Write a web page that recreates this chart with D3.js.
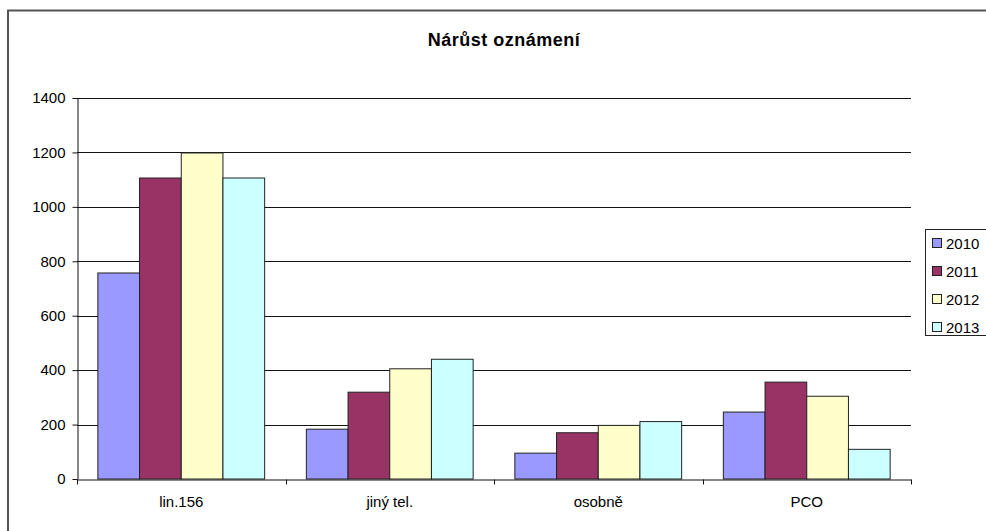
<!DOCTYPE html>
<html>
<head>
<meta charset="utf-8">
<script src="https://cdn.jsdelivr.net/npm/d3@7.9.0/dist/d3.min.js"></script>
<style>
  body { margin: 0; background: #fff; }
  svg { display: block; font-family: "Liberation Sans", Arial, sans-serif; }
</style>
</head>
<body>
<div id="chart"></div>
<script>
const categories = ['lin.156', 'jiný tel.', 'osobně', 'PCO'];
const years = ['2010', '2011', '2012', '2013'];
const values2010 = [757, 183, 95, 246];
const values2011 = [1106, 319, 170, 356];
const values2012 = [1198, 405, 197, 304];
const values2013 = [1106, 440, 211, 109];
const yTicks = [0, 200, 400, 600, 800, 1000, 1200, 1400];
const colors = ['#9999ff', '#993366', '#ffffcc', '#ccffff'];

const series = [values2010, values2011, values2012, values2013];
const rows = categories.map((c, i) => ({
    category: c,
    values: years.map((y, j) => ({ year: y, value: series[j][i] })),
}));

const width = 986;
const height = 531;
const plot = { left: 77, right: 911, top: 98, bottom: 479 };

const svg = d3.select('#chart')
    .append('svg')
    .attr('width', width)
    .attr('height', height);

// outer frame
svg.append('path')
    .attr('d', `M8,${height} V10.5 H${width}`)
    .attr('fill', 'none')
    .attr('stroke', '#555')
    .attr('stroke-width', 2);

svg.append('text')
    .attr('x', 504)
    .attr('y', 46)
    .attr('text-anchor', 'middle')
    .attr('font-size', 18)
    .attr('font-weight', 'bold')
    .attr('letter-spacing', 0.5)
    .text('Nárůst oznámení');

const x0 = d3.scaleBand()
    .domain(categories)
    .range([plot.left, plot.right]);

// Excel gap width 50%: half a bar on each side of the group
const x1 = d3.scaleBand()
    .domain(years)
    .range([0, x0.bandwidth()])
    .paddingInner(0)
    .paddingOuter(0.5);

const y = d3.scaleLinear()
    .domain([0, 1400])
    .range([plot.bottom, plot.top]);

// gridlines
svg.append('g')
    .selectAll('line')
    .data(yTicks.filter(d => d > 0))
    .join('line')
    .attr('x1', plot.left)
    .attr('x2', plot.right)
    .attr('y1', d => Math.round(y(d)) + 0.5)
    .attr('y2', d => Math.round(y(d)) + 0.5)
    .attr('stroke', '#111')
    .attr('stroke-width', 1);

// bars
svg.append('g')
    .selectAll('g')
    .data(rows)
    .join('g')
    .attr('transform', d => `translate(${x0(d.category)},0)`)
    .selectAll('rect')
    .data(d => d.values)
    .join('rect')
    .attr('x', d => x1(d.year))
    .attr('y', d => y(d.value))
    .attr('width', x1.bandwidth())
    .attr('height', d => plot.bottom - y(d.value))
    .attr('fill', (d, i) => colors[i])
    .attr('stroke', '#222')
    .attr('stroke-width', 1);

// y axis
const yAxis = svg.append('g')
    .attr('transform', `translate(${plot.left + 0.5},0)`)
    .call(d3.axisLeft(y).tickValues(yTicks).tickFormat(d3.format('d'))
        .tickSize(5).tickSizeOuter(0).tickPadding(7));
yAxis.select('.domain').attr('stroke', '#111');
yAxis.selectAll('.tick line').attr('stroke', '#111');
yAxis.selectAll('.tick text')
    .attr('font-size', 15)
    .attr('font-family', '"Liberation Sans", Arial, sans-serif')
    .attr('fill', '#000');

// x axis
const xAxis = svg.append('g')
    .attr('transform', `translate(0,${plot.bottom + 0.5})`)
    .call(d3.axisBottom(x0).tickSize(0).tickPadding(17));
xAxis.select('.domain').attr('stroke', '#111');
xAxis.selectAll('.tick text')
    .attr('font-size', 15)
    .attr('font-family', '"Liberation Sans", Arial, sans-serif')
    .attr('fill', '#000');
xAxis.selectAll('.sep')
    .data(categories.concat(['end']))
    .join('line')
    .attr('class', 'sep')
    .attr('x1', (d, i) => Math.round(plot.left + i * x0.step()) + 0.5)
    .attr('x2', (d, i) => Math.round(plot.left + i * x0.step()) + 0.5)
    .attr('y1', 0)
    .attr('y2', 5)
    .attr('stroke', '#111');

// legend
const legend = svg.append('g').attr('transform', 'translate(925,229)');
legend.append('rect')
    .attr('x', 0.5)
    .attr('y', 0.5)
    .attr('width', 80)
    .attr('height', 106)
    .attr('fill', '#fff')
    .attr('stroke', '#222');
const items = legend.selectAll('g.item')
    .data(years)
    .join('g')
    .attr('class', 'item')
    .attr('transform', (d, i) => `translate(0,${15 + i * 28})`);
items.append('rect')
    .attr('x', 7.5)
    .attr('y', -5.5)
    .attr('width', 9)
    .attr('height', 9)
    .attr('fill', (d, i) => colors[i])
    .attr('stroke', '#222');
items.append('text')
    .attr('x', 21)
    .attr('y', 5)
    .attr('font-size', 15)
    .text(d => d);
</script>
</body>
</html>
